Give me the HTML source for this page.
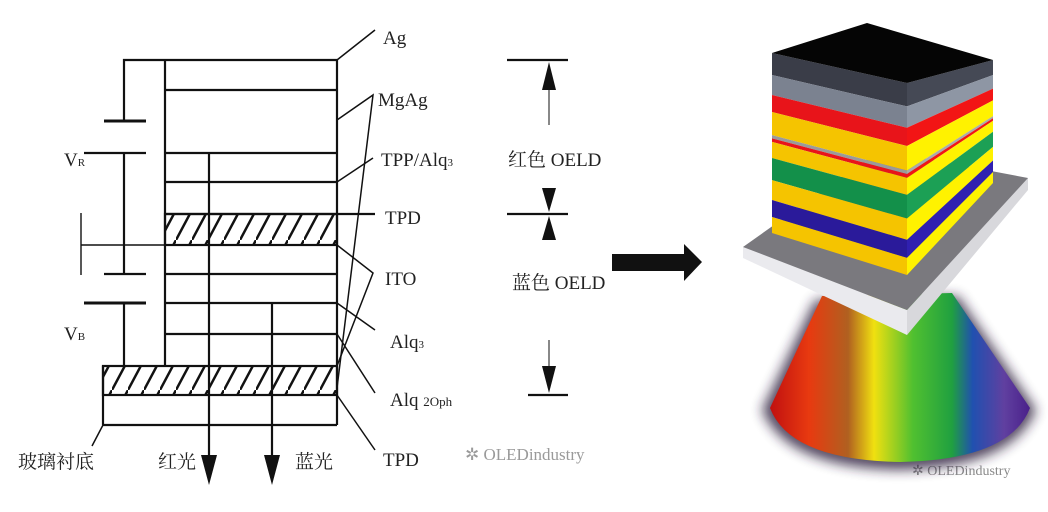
<!DOCTYPE html>
<html><head><meta charset="utf-8"><style>
html,body{margin:0;padding:0;background:#fff}
svg{display:block}
text{font-family:"Liberation Serif","Noto Serif CJK SC",serif;fill:#222}
</style></head><body>
<svg width="1048" height="512" viewBox="0 0 1048 512" xmlns="http://www.w3.org/2000/svg">
<defs>
<pattern id="h" width="16" height="30" patternUnits="userSpaceOnUse">
<rect width="16" height="30" fill="#fff"/>
<line x1="0" y1="30" x2="16" y2="0" stroke="#111" stroke-width="2.5"/>
</pattern>
<linearGradient id="cone" x1="0" x2="1" y1="0" y2="0">
<stop offset="0" stop-color="#c01010"/>
<stop offset="0.15" stop-color="#e83a10"/>
<stop offset="0.3" stop-color="#b06020"/>
<stop offset="0.4" stop-color="#f0e010"/>
<stop offset="0.55" stop-color="#50c030"/>
<stop offset="0.7" stop-color="#20a040"/>
<stop offset="0.78" stop-color="#2050b0"/>
<stop offset="0.9" stop-color="#6040a0"/>
<stop offset="1" stop-color="#4a208a"/>
</linearGradient>
<filter id="bl"><feGaussianBlur stdDeviation="6"/></filter>
</defs>
<g stroke="#111" stroke-width="2.2" fill="none">
<rect x="165" y="214" width="172" height="31" fill="url(#h)"/>
<rect x="103" y="366" width="234" height="29" fill="url(#h)"/>
<polyline points="124,120 124,60 337,60 337,425"/>
<line x1="165" y1="60" x2="165" y2="366"/>
<line x1="103" y1="366" x2="103" y2="425"/>
<line x1="103" y1="425" x2="337" y2="425"/>
<line x1="165" y1="90" x2="337" y2="90"/>
<line x1="165" y1="153" x2="337" y2="153"/>
<line x1="165" y1="182" x2="337" y2="182"/>
<line x1="165" y1="214" x2="375" y2="214"/>
<line x1="81" y1="245" x2="337" y2="245" stroke-width="1.4"/>
<line x1="165" y1="274" x2="337" y2="274"/>
<line x1="165" y1="303" x2="337" y2="303"/>
<line x1="165" y1="334" x2="337" y2="334"/>
<line x1="104" y1="121" x2="146" y2="121" stroke-width="3"/>
<line x1="84" y1="153" x2="146" y2="153"/>
<line x1="124" y1="153" x2="124" y2="274"/>
<line x1="104" y1="274" x2="146" y2="274"/>
<line x1="84" y1="303" x2="146" y2="303" stroke-width="3"/>
<line x1="124" y1="303" x2="124" y2="366"/>
<line x1="81" y1="213" x2="81" y2="275" stroke-width="1.4"/>
<line x1="209" y1="153" x2="209" y2="460"/>
<line x1="272" y1="303" x2="272" y2="460"/>
<polyline points="337,60 375,30" stroke-width="1.5"/>
<polyline points="337,120 373,95 337,388" stroke-width="1.5"/>
<polyline points="337,182 373,158" stroke-width="1.5"/>
<polyline points="337,245 373,273 337,366" stroke-width="1.5"/>
<polyline points="337,303 375,330" stroke-width="1.5"/>
<polyline points="337,334 375,393" stroke-width="1.5"/>
<polyline points="337,395 375,450" stroke-width="1.5"/>
<polyline points="103,425 92,446" stroke-width="1.5"/>
<line x1="507" y1="60" x2="568" y2="60"/>
<line x1="507" y1="214" x2="568" y2="214"/>
<line x1="528" y1="395" x2="568" y2="395"/>
<line x1="549" y1="90" x2="549" y2="125" stroke-width="1"/>
<line x1="549" y1="340" x2="549" y2="368" stroke-width="1"/>
</g>
<g fill="#111">
<polygon points="201,455 217,455 209,485"/>
<polygon points="264,455 280,455 272,485"/>
<polygon points="549,62 542,90 556,90"/>
<polygon points="549,212 542,188 556,188"/>
<polygon points="549,216 542,240 556,240"/>
<polygon points="549,393 542,366 556,366"/>
<polygon points="612,254 684,254 684,244 702,262 684,281 684,271 612,271"/>
</g>
<g font-size="19">
<text x="383" y="44">Ag</text>
<text x="378" y="106">MgAg</text>
<text x="381" y="166">TPP/Alq<tspan font-size="11">3</tspan></text>
<text x="385" y="224">TPD</text>
<text x="385" y="285">ITO</text>
<text x="390" y="348">Alq<tspan font-size="11">3</tspan></text>
<text x="390" y="406">Alq <tspan font-size="13">2Oph</tspan></text>
<text x="383" y="466">TPD</text>
<text x="64" y="166">V<tspan font-size="11">R</tspan></text>
<text x="64" y="340">V<tspan font-size="11">B</tspan></text>
<text x="18" y="468">玻璃衬底</text>
<text x="158" y="468">红光</text>
<text x="295" y="468">蓝光</text>
<rect x="505" y="145" width="95" height="26" fill="#fff"/>
<text x="508" y="166">红色 OELD</text>
<rect x="508" y="268" width="92" height="26" fill="#fff"/>
<text x="512" y="289">蓝色 OELD</text>
</g>
<text x="465" y="460" font-family="Liberation Sans,sans-serif" font-size="17" style="fill:#9a9a9a">✲ OLEDindustry</text>
<text x="912" y="475" font-family="Liberation Sans,sans-serif" font-size="14" style="fill:#8a8a8a">✲ OLEDindustry</text>

<path d="M815,300 L958,296 L1036,410 Q1012,468 900,470 Q786,468 762,410 Z" fill="#2a1a3a" opacity="0.8" filter="url(#bl)"/>
<path d="M822,296 L952,293 L1030,408 Q1010,460 900,462 Q790,460 770,408 Z" fill="url(#cone)"/>
<polygon points="743,247 907,310 907,335 743,258" fill="#eaeaee"/>
<polygon points="907,310 1028,178 1028,190 907,335" fill="#d8d8dc"/>
<polygon points="743,247 880,150 1028,178 907,310" fill="#7a797e"/>
<g id="cube"></g>
<polygon points="772,53 867,23 993,60 907,83" fill="#050505"/>
</svg>
<script>
(function(){
var f=[0,.122,.233,.328,.456,.474,.494,.583,.706,.817,.911,1];
var cf=["#3a3d48","#7b8290","#e8141a","#f5c400","#9a9a9a","#e8141a","#f5c400","#13904a","#f5c400","#2a1a9a","#f5c400"];
var cr=["#454955","#8e96a4","#f21515","#fff200","#aaaaaa","#f21515","#fff200","#1ca055","#fff200","#3020b0","#fff200"];
var g=document.getElementById('cube'),s="";
function L(t){return 53+180*t} function R(t){return 83+192*t} function E(t){return 60+123*t}
for(var i=0;i<cf.length;i++){
 var a=f[i],b=f[i+1];
 s+='<polygon fill="'+cf[i]+'" points="772,'+L(a)+' 907,'+R(a)+' 907,'+R(b)+' 772,'+L(b)+'"/>';
 s+='<polygon fill="'+cr[i]+'" points="907,'+R(a)+' 993,'+E(a)+' 993,'+E(b)+' 907,'+R(b)+'"/>';
}
g.innerHTML=s;
})();
</script>
</body></html>
